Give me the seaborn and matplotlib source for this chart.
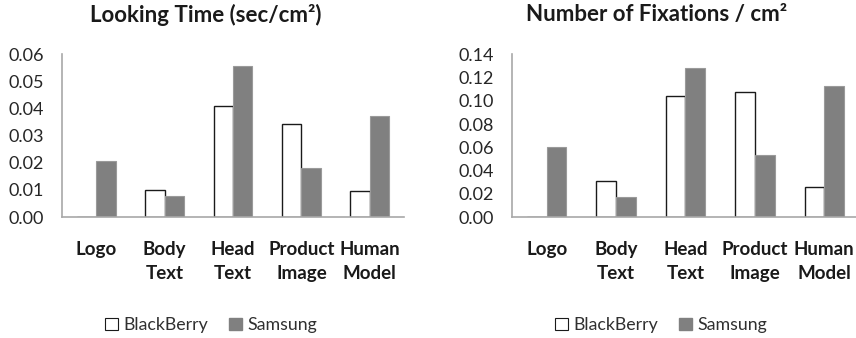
import matplotlib
matplotlib.use("Agg")
import matplotlib.pyplot as plt
from matplotlib.patches import Patch
import seaborn as sns
import pandas as pd
import numpy as np

categories = ["Logo", "Body\nText", "Head\nText", "Product\nImage", "Human\nModel"]
brands = ["BlackBerry", "Samsung"]
looking_bb = [0.0, 0.0101, 0.0408, 0.0342, 0.0096]
looking_sam = [0.0208, 0.0076, 0.0558, 0.0180, 0.0372]
fix_bb = [0.0, 0.0307, 0.1044, 0.1078, 0.0256]
fix_sam = [0.0600, 0.0175, 0.1285, 0.0534, 0.1130]
looking_ticks = [0.00, 0.01, 0.02, 0.03, 0.04, 0.05, 0.06]
fix_ticks = [0.00, 0.02, 0.04, 0.06, 0.08, 0.10, 0.12, 0.14]

sns.set_theme(style="white")
plt.rcParams['font.family'] = ['Lato', 'DejaVu Sans']

W, H = 856, 338
fig = plt.figure(figsize=(W / 100, H / 100), dpi=100)

def make_df(bb, sam):
    return pd.DataFrame({
        "cat": categories * 2,
        "brand": [brands[0]] * 5 + [brands[1]] * 5,
        "val": list(bb) + list(sam),
    })

panels = [
    (62, 342, looking_bb, looking_sam, looking_ticks, "Looking Time (sec/cm²)", 206, 211),
    (512, 347, fix_bb, fix_sam, fix_ticks, "Number of Fixations / cm²", 657, 661),
]

for (x0, wpx, bb, sam, ticks, title, tx, lx) in panels:
    ax = fig.add_axes([x0 / W, 1 - 217 / H, wpx / W, (217 - 54.3) / H])
    df = make_df(bb, sam)
    sns.barplot(data=df, x="cat", y="val", hue="brand", hue_order=brands,
                palette={"BlackBerry": "white", "Samsung": "#808080"},
                width=0.57, gap=0, ax=ax, legend=False, saturation=1)
    for p in ax.containers[0]:
        p.set_edgecolor("#1a1a1a")
        p.set_linewidth(1.0)
    for p in ax.containers[1]:
        p.set_edgecolor("#9a9a9a")
        p.set_linewidth(0.8)
    ax.set_ylim(ticks[0], ticks[-1])
    ax.set_yticks(ticks)
    ax.set_yticklabels([f"{t:.2f}" for t in ticks], fontsize=13, color="#262626")
    ax.set_xlim(-0.5, 4.5)
    ax.set_xlabel("")
    ax.set_ylabel("")
    ax.tick_params(axis="y", length=0, pad=13)
    ax.tick_params(axis="x", length=0, pad=17)
    for lab in ax.get_xticklabels():
        lab.set_fontweight("bold")
        lab.set_fontsize(13.5)
        lab.set_color("#1a1a1a")
        lab.set_linespacing(1.5)
        lab.set_verticalalignment("top")
    for s in ["top", "right"]:
        ax.spines[s].set_visible(False)
    for s in ["left", "bottom"]:
        ax.spines[s].set_color("#a8a8a8")
        ax.spines[s].set_linewidth(1.2)
    fig.text(tx / W, 1 - 15 / H, title, ha="center", va="center",
             fontsize=16, fontweight="bold", color="#1a1a1a")
    handles = [Patch(facecolor="white", edgecolor="#1a1a1a", linewidth=0.8),
               Patch(facecolor="#808080", edgecolor="#808080")]
    fig.legend(handles, brands, loc="center", bbox_to_anchor=(lx / W, 1 - 325 / H),
               ncol=2, frameon=False, fontsize=12.8, handlelength=0.7, handleheight=0.7,
               handletextpad=0.3, columnspacing=1.2, labelcolor="#303030")

fig.savefig("out.png", dpi=100, facecolor="white")
